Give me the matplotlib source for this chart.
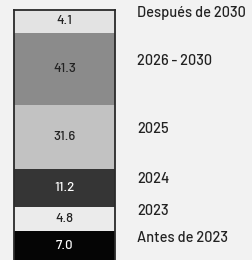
import matplotlib.pyplot as plt
import numpy as np

# share of something by year band, stacked bottom -> top
periods = ['Antes de 2023', '2023', '2024', '2025', '2026 - 2030', 'Después de 2030']
values = [7.0, 4.8, 11.2, 31.6, 41.3, 4.1]
value_labels = ['7.0', '4.8', '11.2', '31.6', '41.3', '4.1']

colors = ['#050505', '#ebebeb', '#353535', '#c2c2c2', '#8b8b8b', '#e3e3e3']
text_colors = ['white', '#222222', 'white', '#222222', '#222222', '#222222']

plt.rcParams['font.family'] = ['Barlow', 'Barlow Semi Condensed', 'DejaVu Sans']

fig = plt.figure(figsize=(2.53, 2.60), dpi=100, facecolor='#f2f2f2')
ax = fig.add_axes([0.055, -0.005, 0.40, 0.967])
ax.set_facecolor('#f2f2f2')

# the infographic compresses big blocks: use sqrt-scaled heights
heights = np.sqrt(values)
bottoms = np.concatenate([[0], np.cumsum(heights)[:-1]])

ax.bar(0, heights, bottom=bottoms, width=1.0, color=colors,
       edgecolor='none', align='center')
ax.set_xlim(-0.5, 0.5)
ax.set_ylim(0, heights.sum())

for h, b, lab, tc in zip(heights, bottoms, value_labels, text_colors):
    ax.text(0, b + h / 2, lab, ha='center', va='center',
            fontsize=9.5, fontweight='medium', color=tc)

for h, b, per in zip(heights, bottoms, periods):
    ax.annotate(per, xy=(0.5, b + h / 2), xycoords='data',
                xytext=(16, 6), textcoords='offset points',
                ha='left', va='center', fontsize=10.5, fontweight='medium',
                color='#222222', annotation_clip=False)

for s in ['left', 'right', 'top']:
    ax.spines[s].set_color('#2a2a2a')
    ax.spines[s].set_linewidth(1.3)
ax.spines['bottom'].set_visible(False)
ax.set_xticks([])
ax.set_yticks([])

fig.savefig('out.png', dpi=100, facecolor=fig.get_facecolor())
